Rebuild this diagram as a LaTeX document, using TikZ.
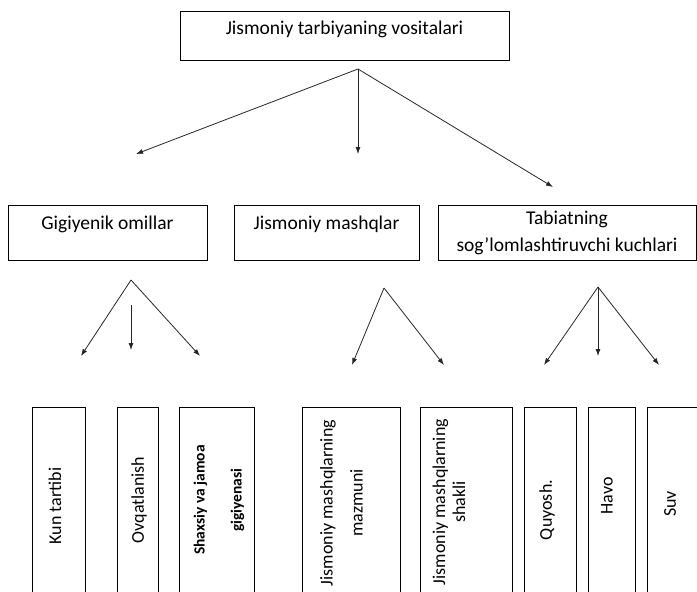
\documentclass[tikz,border=0pt]{standalone}
\usepackage{fontspec}
\setmainfont{Carlito}
\usetikzlibrary{arrows.meta}
\newcommand{\bigfont}{\fontsize{19.5}{27}\selectfont}
\newcommand{\leaffont}{\fontsize{18}{20}\selectfont}
\tikzset{
  basic/.style  = {draw, line width=1pt, inner sep=0pt, font=\bigfont},
  root/.style   = {basic, minimum width=329pt, minimum height=49pt,
                   text height=14pt, text depth=17pt},
  group/.style  = {basic, minimum height=55pt},
  one line/.style = {text height=14pt, text depth=21pt},
  item/.style   = {draw, line width=1pt, minimum height=200pt, anchor=north},
  item text/.style = {rotate=90, align=center, font=\leaffont},
  link/.style   = {->, line width=0.8pt, black!85}
}
\begin{document}
\begin{tikzpicture}[x=1pt, y=-1pt, >={Latex[length=7pt,width=5pt]}]
  \useasboundingbox (0,0) rectangle (697,592);
  \clip (0,0) rectangle (697,592);

  % root of the diagram
  \node[root] (root) at (344.5,35.5) {Jismoniy tarbiyaning vositalari};

  % the three groups
  \node[group, one line, minimum width=199pt] (gig) at (107.5,232.5) {Gigiyenik omillar};
  \node[group, one line, minimum width=185pt] (jis) at (326.5,232.5) {Jismoniy mashqlar};
  \node[group, align=center, minimum width=258pt] (tab) at (567,232.5)
    {Tabiatning\\sog’lomlashtiruvchi kuchlari};

  % the leaves, boxes open at the bottom of the page
  \node[item, minimum width=53pt] (kun) at (58.5,407) {};
  \node[item, minimum width=41pt] (ovq) at (137.5,407) {};
  \node[item, minimum width=75pt] (shx) at (216.5,407) {};
  \node[item, minimum width=98pt] (maz) at (351,407) {};
  \node[item, minimum width=92pt] (sha) at (466,407) {};
  \node[item, minimum width=52pt] (quy) at (550,407) {};
  \node[item, minimum width=47pt] (hav) at (611.5,407) {};
  \node[item, minimum width=54pt] (suv) at (674,407) {};

  % rotated texts of the leaves
  \node[item text] (kunT) at (55,506) {Kun tartibi};
  \node[item text] (ovqT) at (139,500) {Ovqatlanish};
  \node[item text, font=\bfseries\fontsize{15.5}{19}\selectfont] (shxT) at (219,500)
    {Shaxsiy va jamoa\\[18pt]gigiyenasi};
  \node[item text] (mazT) at (341.5,503) {Jismoniy mashqlarning\\[10pt]mazmuni};
  \node[item text] (shaT) at (449,502) {Jismoniy mashqlarning\\shakli};
  \node[item text] (quyT) at (547,510) {Quyosh.};
  \node[item text] (havT) at (607,496) {Havo};
  \node[item text] (suvT) at (670,504) {Suv};

  % free ends of the arrows
  \coordinate (a0) at (358,69);
  \coordinate (a0l) at (136,154);
  \coordinate (a0m) at (358,154);
  \coordinate (a0r) at (553,187);
  \coordinate (a1) at (131,280);
  \coordinate (a1l) at (81,356);
  \coordinate (a1r) at (200,356);
  \coordinate (a1s) at (131,305);
  \coordinate (a1m) at (131,350);
  \coordinate (a2) at (384,288);
  \coordinate (a2l) at (352,365);
  \coordinate (a2r) at (444,365);
  \coordinate (a3) at (598,287);
  \coordinate (a3l) at (544,365);
  \coordinate (a3m) at (598,356);
  \coordinate (a3r) at (659,365);

  % arrows from the root
  \foreach \value in {l,m,r}
    \draw[link] (a0) -- (a0\value);

  % arrows from the groups
  \foreach \value in {l,r}
    \draw[link] (a1) -- (a1\value);
  \draw[link] (a1s) -- (a1m);

  \foreach \value in {l,r}
    \draw[link] (a2) -- (a2\value);

  \foreach \value in {l,m,r}
    \draw[link] (a3) -- (a3\value);

\end{tikzpicture}
\end{document}
